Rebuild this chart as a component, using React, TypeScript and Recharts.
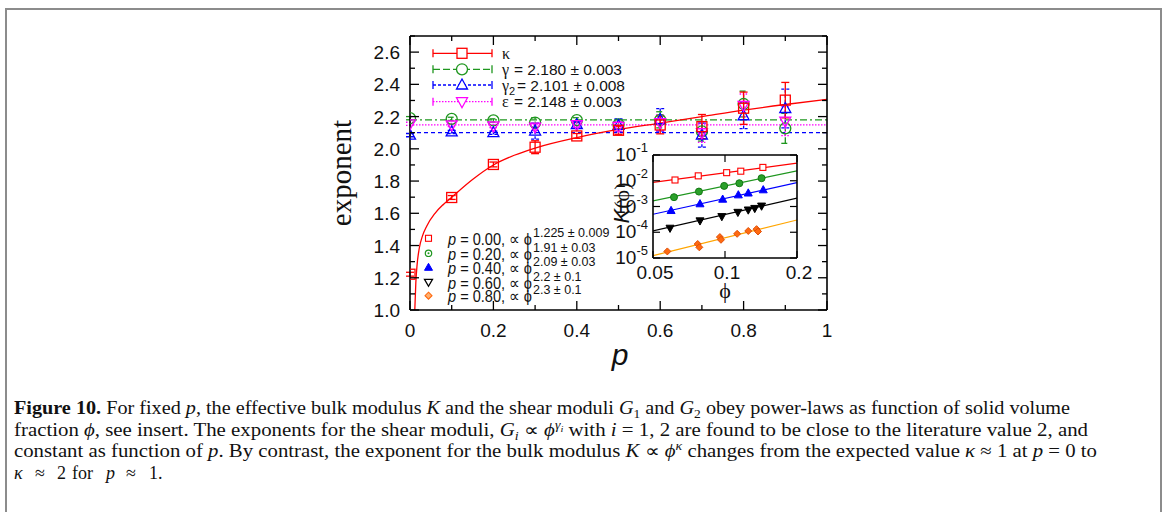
import React from 'react';
import { ComposedChart, Scatter, Line, XAxis, YAxis, ErrorBar, ReferenceLine } from 'recharts';

// ---------- main panel data ----------
const pValues = [0, 0.1, 0.2, 0.3, 0.4, 0.5, 0.6, 0.7, 0.8, 0.9];
const kappa = [1.222, 1.698, 1.903, 2.01, 2.08, 2.115, 2.148, 2.138, 2.252, 2.302];
const kappaErr = [0.012, 0.012, 0.015, 0.04, 0.015, 0.025, 0.055, 0.075, 0.1, 0.11];
const gamma = [2.19, 2.186, 2.176, 2.163, 2.178, 2.152, 2.18, 2.108, 2.278, 2.127];
const gammaErr = [0.01, 0.01, 0.01, 0.03, 0.015, 0.03, 0.05, 0.06, 0.08, 0.093];
const gamma2 = [2.085, 2.105, 2.1, 2.11, 2.15, 2.145, 2.18, 2.085, 2.205, 2.25];
const gamma2Err = [0.01, 0.01, 0.01, 0.05, 0.02, 0.04, 0.07, 0.075, 0.08, 0.12];
const eps = [2.155, 2.148, 2.142, 2.135, 2.15, 2.14, 2.162, 2.1, 2.27, 2.172];
const epsErr = [0.01, 0.01, 0.01, 0.02, 0.015, 0.03, 0.05, 0.06, 0.07, 0.09];

const fitP = [0.0115, 0.014, 0.017, 0.022, 0.03, 0.04, 0.06, 0.08, 0.1, 0.15, 0.2, 0.25, 0.3, 0.4, 0.5, 0.6, 0.7, 0.8, 0.9, 1.0];
const fitKappa = [1.0, 1.17, 1.28, 1.38, 1.46, 1.52, 1.6, 1.655, 1.7, 1.81, 1.9, 1.96, 2.005, 2.07, 2.12, 2.16, 2.2, 2.24, 2.275, 2.307];

const gammaMean = 2.18;
const gamma2Mean = 2.101;
const epsMean = 2.148;

const xTicks = [0, 0.1, 0.2, 0.3, 0.4, 0.5, 0.6, 0.7, 0.8, 0.9, 1];
const yTicks = [1.0, 1.1, 1.2, 1.3, 1.4, 1.5, 1.6, 1.7, 1.8, 1.9, 2.0, 2.1, 2.2, 2.3, 2.4, 2.5, 2.6, 2.7];

const legendTop = ['κ', 'γ', 'γ', 'ε'];
const legendTopVals = ['', '= 2.180 ± 0.003', '= 2.101 ± 0.008', '= 2.148 ± 0.003'];

// ---------- inset data ----------
const insetLabels = ['0.00', '0.20', '0.40', '0.60', '0.80'];
const insetExps = ['1.225 ± 0.009', '1.91 ± 0.03', '2.09 ± 0.03', '2.2 ± 0.1', '2.3 ± 0.1'];
const phi0 = [0.0618, 0.0773, 0.1016, 0.1164, 0.144];
const K0 = [1.07e-2, 1.55e-2, 2.06e-2, 2.35e-2, 3.3e-2];
const phi1 = [0.0612, 0.0778, 0.0992, 0.1148, 0.1422];
const K1 = [2.3e-3, 3.8e-3, 6.3e-3, 8.0e-3, 1.26e-2];
const phi2 = [0.0595, 0.0786, 0.0978, 0.1137, 0.1251, 0.1445];
const K2 = [6.9e-4, 1.26e-3, 1.9e-3, 2.8e-3, 3.3e-3, 4.4e-3];
const phi3 = [0.0589, 0.0786, 0.097, 0.1132, 0.1251, 0.1332, 0.1422];
const K3 = [1.45e-4, 2.8e-4, 4.1e-4, 6.0e-4, 7.4e-4, 8.5e-4, 1.05e-3];
const phi4 = [0.0574, 0.0769, 0.0781, 0.0952, 0.0962, 0.1124, 0.1251, 0.1355, 0.1374];
const K4 = [1.8e-5, 3.5e-5, 2.6e-5, 6.5e-5, 5.1e-5, 8.7e-5, 1.12e-4, 1.32e-4, 1.07e-4];
const fitPhi = [0.05, 0.2];
const fit0 = [8.7e-3, 4.8e-2];
const fit1 = [1.66e-3, 2.4e-2];
const fit2 = [5.0e-4, 8.5e-3];
const fit3 = [1.12e-4, 2.1e-3];
const fit4 = [1.23e-5, 3.0e-4];
const insetXTicks = [0.05, 0.1, 0.2];
const insetYTicks = [1e-5, 1e-4, 1e-3, 1e-2, 1e-1];

// ---------- styling ----------
const RED = '#ff0000';
const GREEN = '#1e961e';
const BLUE = '#0000ff';
const MAGENTA = '#ff00ff';
const ORANGE_LINE = '#ffa500';
const ORANGE = '#ff6a10';
const SANS = 'Liberation Sans, Arial, Helvetica, sans-serif';
const SERIF = 'Liberation Serif, Times New Roman, serif';

const rowsOf = (v: number[], e: number[]) => pValues.map((p, i) => ({ p, v: v[i], e: e[i] }));
const kRows = rowsOf(kappa, kappaErr);
const gRows = rowsOf(gamma, gammaErr);
const g2Rows = rowsOf(gamma2, gamma2Err);
const eRows = rowsOf(eps, epsErr);
const fitRows = fitP.map((p, i) => ({ p, v: fitKappa[i] }));

const insetRows = (x: number[], y: number[]) => x.map((phi, i) => ({ phi, K: y[i] }));

// marker shapes
const squareShape = (c: string, s: number, fill = 'none', sw = 1.3) => (pr: any) => (
  <rect x={pr.cx - s / 2} y={pr.cy - s / 2} width={s} height={s} fill={fill} stroke={c} strokeWidth={sw} />
);
const circleShape = (c: string, r: number, fill = 'none', sw = 1.3) => (pr: any) => (
  <circle cx={pr.cx} cy={pr.cy} r={r} fill={fill} stroke={c} strokeWidth={sw} />
);
const triShape = (c: string, s: number, fill = 'none', sw = 1.3) => (pr: any) => {
  const h = s * 0.9;
  return (
    <polygon
      points={`${pr.cx},${pr.cy - h * 0.6} ${pr.cx - s / 2},${pr.cy + h * 0.4} ${pr.cx + s / 2},${pr.cy + h * 0.4}`}
      fill={fill}
      stroke={c}
      strokeWidth={sw}
    />
  );
};
const dtriShape = (c: string, s: number, fill = 'none', sw = 1.3) => (pr: any) => {
  const h = s * 0.9;
  return (
    <polygon
      points={`${pr.cx},${pr.cy + h * 0.6} ${pr.cx - s / 2},${pr.cy - h * 0.4} ${pr.cx + s / 2},${pr.cy - h * 0.4}`}
      fill={fill}
      stroke={c}
      strokeWidth={sw}
    />
  );
};
const diamondShape = (c: string, s: number, fill: string, sw = 1) => (pr: any) => (
  <polygon
    points={`${pr.cx},${pr.cy - s / 2} ${pr.cx + s / 2},${pr.cy} ${pr.cx},${pr.cy + s / 2} ${pr.cx - s / 2},${pr.cy}`}
    fill={fill}
    stroke={c}
    strokeWidth={sw}
  />
);

const isMajor = (v: number) => Math.round(v * 10) % 2 === 0;
const fmtX = (v: number) => (Math.abs(v - Math.round(v)) < 1e-9 ? String(Math.round(v)) : v.toFixed(1));

const BottomTick = (props: any) => {
  const { x, y, payload } = props;
  const v = payload.value;
  const m = isMajor(v);
  return (
    <g>
      <line x1={x} x2={x} y1={y} y2={y - (m ? 9 : 5)} stroke="#000" strokeWidth={1.3} />
      {m && (
        <text x={x} y={y + 27} textAnchor="middle" fontSize={19} fontFamily={SANS} fill="#111">
          {fmtX(v)}
        </text>
      )}
    </g>
  );
};
const TopTick = (props: any) => {
  const { x, y, payload } = props;
  const m = isMajor(payload.value);
  return <line x1={x} x2={x} y1={y} y2={y + (m ? 9 : 5)} stroke="#000" strokeWidth={1.3} />;
};
const LeftTick = (props: any) => {
  const { x, y, payload } = props;
  const v = payload.value;
  const m = isMajor(v);
  const show = m && v < 2.65;
  return (
    <g>
      <line x1={x} x2={x + (m ? 9 : 5)} y1={y} y2={y} stroke="#000" strokeWidth={1.3} />
      {show && (
        <text x={x - 10} y={y + 7} textAnchor="end" fontSize={19} fontFamily={SANS} fill="#111">
          {v.toFixed(1)}
        </text>
      )}
    </g>
  );
};
const RightTick = (props: any) => {
  const { x, y, payload } = props;
  const m = isMajor(payload.value);
  return <line x1={x} x2={x - (m ? 9 : 5)} y1={y} y2={y} stroke="#000" strokeWidth={1.3} />;
};

// inset ticks
const InsetBottomTick = (props: any) => {
  const { x, y, payload } = props;
  const v = payload.value;
  return (
    <g>
      <line x1={x} x2={x} y1={y} y2={y - 7} stroke="#000" strokeWidth={1.2} />
      <text x={x + 2} y={y + 21} textAnchor="middle" fontSize={19} fontFamily={SANS} fill="#111">
        {String(v)}
      </text>
    </g>
  );
};
const InsetTopTick = (props: any) => {
  const { x, y } = props;
  return <line x1={x} x2={x} y1={y} y2={y + 7} stroke="#000" strokeWidth={1.2} />;
};
const InsetLeftTick = (props: any) => {
  const { x, y, payload } = props;
  const e = Math.round(Math.log10(payload.value));
  return (
    <g>
      <line x1={x} x2={x + 7} y1={y} y2={y} stroke="#000" strokeWidth={1.2} />
      <text x={x - 5} y={y + 6} textAnchor="end" fontFamily={SANS} fill="#111">
        <tspan fontSize={19}>10</tspan>
        <tspan fontSize={13} dy={-9}>{String(e)}</tspan>
      </text>
    </g>
  );
};
const InsetRightTick = (props: any) => {
  const { x, y } = props;
  return <line x1={x} x2={x - 7} y1={y} y2={y} stroke="#000" strokeWidth={1.2} />;
};

const axisLine = { stroke: '#000', strokeWidth: 1.6 };

function MainChart() {
  return (
    <ComposedChart
      width={1165}
      height={512}
      margin={{ top: 26, right: 328, bottom: 142, left: 350 }}
      style={{ position: 'absolute', left: 0, top: 0 }}
    >
      <XAxis xAxisId="b" type="number" dataKey="p" domain={[0, 1]} ticks={xTicks} interval={0} height={60}
        tickSize={0} tickMargin={0} tickLine={false} axisLine={axisLine} tick={BottomTick} allowDataOverflow />
      <XAxis xAxisId="t" orientation="top" type="number" dataKey="p" domain={[0, 1]} ticks={xTicks} interval={0} height={10}
        tickSize={0} tickMargin={0} tickLine={false} axisLine={axisLine} tick={TopTick} allowDataOverflow />
      <YAxis yAxisId="l" type="number" domain={[1, 2.7]} ticks={yTicks} interval={0} width={60}
        tickSize={0} tickMargin={0} tickLine={false} axisLine={axisLine} tick={LeftTick} allowDataOverflow />
      <YAxis yAxisId="r" orientation="right" type="number" domain={[1, 2.7]} ticks={yTicks} interval={0} width={10}
        tickSize={0} tickMargin={0} tickLine={false} axisLine={axisLine} tick={RightTick} allowDataOverflow />

      <ReferenceLine xAxisId="b" yAxisId="l" y={gammaMean} stroke={GREEN} strokeWidth={1.3} strokeDasharray="7 3 2 3" />
      <ReferenceLine xAxisId="b" yAxisId="l" y={epsMean} stroke={MAGENTA} strokeWidth={1.3} strokeDasharray="1.5 1.5" />
      <ReferenceLine xAxisId="b" yAxisId="l" y={gamma2Mean} stroke={BLUE} strokeWidth={1.3} strokeDasharray="4 3" />

      <Line xAxisId="b" yAxisId="l" data={fitRows} dataKey="v" type="monotone" stroke={RED} strokeWidth={1.3}
        dot={false} isAnimationActive={false} />

      <Scatter xAxisId="b" yAxisId="l" data={gRows} dataKey="v" shape={circleShape(GREEN, 5.5)} isAnimationActive={false}>
        <ErrorBar dataKey="e" direction="y" width={4} stroke={GREEN} strokeWidth={1.3} strokeDasharray="6 2 2 2" />
      </Scatter>
      <Scatter xAxisId="b" yAxisId="l" data={g2Rows} dataKey="v" shape={triShape(BLUE, 11)} isAnimationActive={false}>
        <ErrorBar dataKey="e" direction="y" width={4} stroke={BLUE} strokeWidth={1.3} strokeDasharray="3 2" />
      </Scatter>
      <Scatter xAxisId="b" yAxisId="l" data={eRows} dataKey="v" shape={dtriShape(MAGENTA, 11)} isAnimationActive={false}>
        <ErrorBar dataKey="e" direction="y" width={4} stroke={MAGENTA} strokeWidth={1.3} strokeDasharray="1.5 1.5" />
      </Scatter>
      <Scatter xAxisId="b" yAxisId="l" data={kRows} dataKey="v" shape={squareShape(RED, 10)} isAnimationActive={false}>
        <ErrorBar dataKey="e" direction="y" width={4} stroke={RED} strokeWidth={1.3} />
      </Scatter>
    </ComposedChart>
  );
}

function InsetChart() {
  return (
    <ComposedChart
      width={265}
      height={170}
      margin={{ top: 10, right: 23, bottom: 22, left: 43 }}
      style={{ position: 'absolute', left: 560, top: 140 }}
    >
      <XAxis xAxisId="b" type="number" scale="log" dataKey="phi" domain={[0.05, 0.2]} ticks={insetXTicks} interval={0}
        height={30} tickSize={0} tickMargin={0} tickLine={false} axisLine={axisLine} tick={InsetBottomTick} allowDataOverflow />
      <XAxis xAxisId="t" orientation="top" type="number" scale="log" dataKey="phi" domain={[0.05, 0.2]} ticks={insetXTicks}
        interval={0} height={5} tickSize={0} tickMargin={0} tickLine={false} axisLine={axisLine} tick={InsetTopTick} allowDataOverflow />
      <YAxis yAxisId="l" type="number" scale="log" domain={[1e-5, 1e-1]} ticks={insetYTicks} interval={0} width={50}
        tickSize={0} tickMargin={0} tickLine={false} axisLine={axisLine} tick={InsetLeftTick} allowDataOverflow />
      <YAxis yAxisId="r" orientation="right" type="number" scale="log" domain={[1e-5, 1e-1]} ticks={insetYTicks} interval={0}
        width={5} tickSize={0} tickMargin={0} tickLine={false} axisLine={axisLine} tick={InsetRightTick} allowDataOverflow />

      <Line xAxisId="b" yAxisId="l" data={insetRows(fitPhi, fit0)} dataKey="K" stroke={RED} strokeWidth={1.2} dot={false} isAnimationActive={false} />
      <Line xAxisId="b" yAxisId="l" data={insetRows(fitPhi, fit1)} dataKey="K" stroke={GREEN} strokeWidth={1.2} dot={false} isAnimationActive={false} />
      <Line xAxisId="b" yAxisId="l" data={insetRows(fitPhi, fit2)} dataKey="K" stroke={BLUE} strokeWidth={1.2} dot={false} isAnimationActive={false} />
      <Line xAxisId="b" yAxisId="l" data={insetRows(fitPhi, fit3)} dataKey="K" stroke="#000" strokeWidth={1.2} dot={false} isAnimationActive={false} />
      <Line xAxisId="b" yAxisId="l" data={insetRows(fitPhi, fit4)} dataKey="K" stroke={ORANGE_LINE} strokeWidth={1.2} dot={false} isAnimationActive={false} />

      <Scatter xAxisId="b" yAxisId="l" data={insetRows(phi0, K0)} dataKey="K" shape={squareShape(RED, 6, '#fff', 1.1)} isAnimationActive={false} />
      <Scatter xAxisId="b" yAxisId="l" data={insetRows(phi1, K1)} dataKey="K" shape={circleShape('#147814', 3.5, '#2aa02a', 1)} isAnimationActive={false} />
      <Scatter xAxisId="b" yAxisId="l" data={insetRows(phi2, K2)} dataKey="K" shape={triShape(BLUE, 8, BLUE, 1)} isAnimationActive={false} />
      <Scatter xAxisId="b" yAxisId="l" data={insetRows(phi3, K3)} dataKey="K" shape={dtriShape('#000', 8, '#000', 1)} isAnimationActive={false} />
      <Scatter xAxisId="b" yAxisId="l" data={insetRows(phi4, K4)} dataKey="K" shape={diamondShape('#e0500a', 7, ORANGE, 1)} isAnimationActive={false} />
    </ComposedChart>
  );
}

function Overlay() {
  const topRows = [53.3, 69.3, 85, 101.7];
  const topColors = [RED, GREEN, BLUE, MAGENTA];
  const topDash = [undefined, '7 3', '3 2', '1.5 1.5'];
  const botRows = [238.3, 253.3, 267.3, 282.3, 295.7];
  return (
    <svg width={1165} height={512} style={{ position: 'absolute', left: 0, top: 0, pointerEvents: 'none' }}>
      {/* outer figure frame */}
      <path d="M6,520 L6,9 L1161,9 L1161,520" fill="none" stroke="#8c8c8c" strokeWidth={2} />

      {/* top legend */}
      {topRows.map((y, i) => (
        <g key={'tl' + i}>
          <line x1={433} x2={492} y1={y} y2={y} stroke={topColors[i]} strokeWidth={1.3} strokeDasharray={topDash[i]} />
          <line x1={433} x2={433} y1={y - 4} y2={y + 4} stroke={topColors[i]} strokeWidth={1.3} />
          <line x1={492} x2={492} y1={y - 4} y2={y + 4} stroke={topColors[i]} strokeWidth={1.3} />
          {i === 0 && <rect x={457} y={y - 5} width={10} height={10} fill="#fff" stroke={RED} strokeWidth={1.3} />}
          {i === 1 && <circle cx={462} cy={y} r={5.5} fill="#fff" stroke={GREEN} strokeWidth={1.3} />}
          {i === 2 && <polygon points={`462,${y - 6} 456.5,${y + 4} 467.5,${y + 4}`} fill="#fff" stroke={BLUE} strokeWidth={1.3} />}
          {i === 3 && <polygon points={`462,${y + 6} 456.5,${y - 4} 467.5,${y - 4}`} fill="#fff" stroke={MAGENTA} strokeWidth={1.3} />}
          <text x={502} y={y + 5.5} fontFamily={SERIF} fontSize={16} fill="#111">
            {legendTop[i]}
            {i === 2 && <tspan fontFamily={SANS} fontSize={11} dy={4}>2</tspan>}
          </text>
          {i > 0 && (
            <text x={i === 2 ? 517 : 514} y={y + 5.5} fontFamily={SANS} fontSize={15} fill="#111"
              textLength={i === 2 ? 108 : 108} lengthAdjust="spacingAndGlyphs">
              {legendTopVals[i]}
            </text>
          )}
        </g>
      ))}

      {/* bottom-left legend (for inset) */}
      {botRows.map((y, i) => (
        <g key={'bl' + i}>
          {i === 0 && <rect x={425.5} y={y - 3} width={6} height={6} fill="#fff" stroke={RED} strokeWidth={1.1} />}
          {i === 1 && (
            <g>
              <circle cx={428.5} cy={y} r={3.2} fill="#fff" stroke={GREEN} strokeWidth={1.2} />
              <circle cx={428.5} cy={y} r={1} fill={GREEN} />
            </g>
          )}
          {i === 2 && <polygon points={`428.5,${y - 4} 424.5,${y + 3} 432.5,${y + 3}`} fill={BLUE} stroke={BLUE} strokeWidth={1} />}
          {i === 3 && <polygon points={`428.5,${y + 4} 424.5,${y - 3} 432.5,${y - 3}`} fill="#fff" stroke="#000" strokeWidth={1.3} />}
          {i === 4 && <polygon points={`428.5,${y - 3.5} 432,${y} 428.5,${y + 3.5} 425,${y}`} fill="#ffb070" stroke={ORANGE} strokeWidth={1.1} />}
          <text x={448} y={y + 6.5} fontFamily={SANS} fontSize={16.5} fill="#111" textLength={84} lengthAdjust="spacingAndGlyphs">
            <tspan fontStyle="italic">p</tspan>
            {` = ${insetLabels[i]}, ∝ ϕ`}
          </text>
          <text x={533} y={y - 1.5} fontFamily={SANS} fontSize={12.5} fill="#111">
            {insetExps[i]}
          </text>
        </g>
      ))}

      {/* axis titles */}
      <text x={0} y={0} transform="translate(351,173) rotate(-90)" textAnchor="middle" fontFamily={SERIF} fontSize={29} fill="#111">
        exponent
      </text>
      <text x={620} y={365} textAnchor="middle" fontFamily={SANS} fontStyle="italic" fontSize={30} fill="#111">
        p
      </text>
      <text x={725} y={298} textAnchor="middle" fontFamily={SERIF} fontSize={22} fill="#111">
        ϕ
      </text>
      <text x={0} y={0} transform="translate(629,203) rotate(-90)" textAnchor="middle" fontFamily={SANS} fontSize={22} fill="#111">
        <tspan fontStyle="italic">K</tspan>
        <tspan fontFamily={SERIF}>(ϕ)</tspan>
      </text>

      {/* caption */}
      <g fontFamily={SERIF} fontSize={18} fill="#111">
        <text x={14} y={414} textLength={1056} lengthAdjust="spacingAndGlyphs">
          <tspan fontWeight="bold">Figure 10.</tspan> For fixed <tspan fontStyle="italic">p</tspan>, the effective bulk modulus{' '}
          <tspan fontStyle="italic">K</tspan> and the shear moduli <tspan fontStyle="italic">G</tspan>
          <tspan fontSize={12} dy={4}>1</tspan>
          <tspan dy={-4}> and </tspan>
          <tspan fontStyle="italic">G</tspan>
          <tspan fontSize={12} dy={4}>2</tspan>
          <tspan dy={-4}> obey power-laws as function of solid volume</tspan>
        </text>
        <text x={14} y={435.5} textLength={1074} lengthAdjust="spacingAndGlyphs">
          fraction <tspan fontStyle="italic">ϕ</tspan>, see insert. The exponents for the shear moduli,{' '}
          <tspan fontStyle="italic">G</tspan>
          <tspan fontStyle="italic" fontSize={12} dy={4}>i</tspan>
          <tspan dy={-4}> ∝ </tspan>
          <tspan fontStyle="italic">ϕ</tspan>
          <tspan fontStyle="italic" fontSize={12} dy={-7}>γ</tspan>
          <tspan fontStyle="italic" fontSize={9} dy={3}>i</tspan>
          <tspan dy={4}> with </tspan>
          <tspan fontStyle="italic">i</tspan> = 1, 2 are found to be close to the literature value 2, and
        </text>
        <text x={14} y={457} textLength={1083} lengthAdjust="spacingAndGlyphs">
          constant as function of <tspan fontStyle="italic">p</tspan>. By contrast, the exponent for the bulk modulus{' '}
          <tspan fontStyle="italic">K</tspan> ∝ <tspan fontStyle="italic">ϕ</tspan>
          <tspan fontStyle="italic" fontSize={12} dy={-7}>κ</tspan>
          <tspan dy={7}> changes from the expected value </tspan>
          <tspan fontStyle="italic">κ</tspan> ≈ 1 at <tspan fontStyle="italic">p</tspan> = 0 to
        </text>
        <text x={14} y={478.5}>
          <tspan fontStyle="italic">κ</tspan>
          <tspan x={35}>≈</tspan>
          <tspan x={57}>2</tspan>
          <tspan x={72}>for</tspan>
          <tspan x={106} fontStyle="italic">p</tspan>
          <tspan x={126}>≈</tspan>
          <tspan x={149}>1.</tspan>
        </text>
      </g>
    </svg>
  );
}

export default function App() {
  return (
    <div style={{ position: 'absolute', left: 0, top: 0, width: 1165, height: 512, background: '#fff', overflow: 'hidden' }}>
      <MainChart />
      <InsetChart />
      <Overlay />
    </div>
  );
}
